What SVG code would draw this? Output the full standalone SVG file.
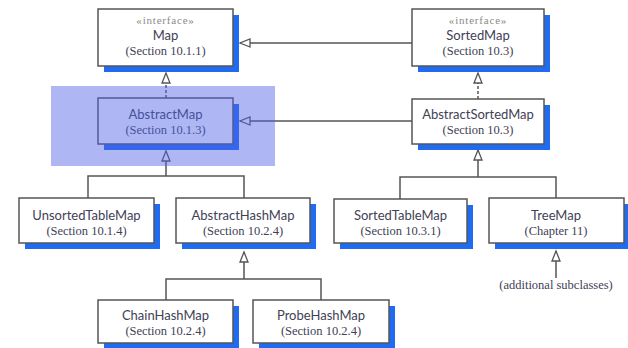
<svg xmlns="http://www.w3.org/2000/svg" width="628" height="348" viewBox="0 0 628 348">
  <defs>
    <style>
      .shadow { fill: #1f6cf2; }
      .box { fill: #ffffff; stroke: #555555; stroke-width: 1.5; }
      .name { font-family: Lato, "Open Sans", "DejaVu Sans", sans-serif; font-size: 13px; fill: #414156; text-anchor: middle; }
      .sec { font-family: "Liberation Serif", "DejaVu Serif", serif; font-size: 12.5px; fill: #414156; text-anchor: middle; }
      .stereo { font-family: "Liberation Serif", "DejaVu Serif", serif; font-size: 11px; fill: #8a8a8a; text-anchor: middle; letter-spacing: 0.8px; }
      .link { fill: none; stroke: #555555; stroke-width: 1.5; }
      .dashed { stroke-dasharray: 3 2; }
    </style>
    <marker id="hollow" viewBox="0 0 12 10" refX="11" refY="5" markerWidth="12" markerHeight="10" markerUnits="userSpaceOnUse" orient="auto" overflow="visible">
      <path d="M1,1 L11,5 L1,9 Z" fill="#ffffff" stroke="#555555" stroke-width="1.3"/>
    </marker>
  </defs>

  <rect width="628" height="348" fill="#ffffff"/>

  <!-- connectors -->
  <g id="connectors">
    <path class="link dashed" d="M166,98 L166,73" marker-end="url(#hollow)"/>
    <path class="link dashed" d="M478,99 L478,73" marker-end="url(#hollow)"/>
    <path class="link" d="M412,43 L240,43" marker-end="url(#hollow)"/>
    <path class="link" d="M412,121 L240,121" marker-end="url(#hollow)"/>
    <path class="link" d="M88,198 L88,176 L244,176 L244,198"/>
    <path class="link" d="M166,176 L166,151" marker-end="url(#hollow)"/>
    <path class="link" d="M400,199 L400,177 L556,177 L556,198"/>
    <path class="link" d="M478,177 L478,150" marker-end="url(#hollow)"/>
    <path class="link" d="M166,300 L166,279 L321,279 L321,300"/>
    <path class="link" d="M244,279 L244,252" marker-end="url(#hollow)"/>
    <path class="link" d="M556,278 L556,251" marker-end="url(#hollow)"/>
  </g>

  <g id="map">
    <rect class="shadow" x="104" y="15" width="135" height="57"/>
    <rect class="box" x="98" y="9" width="135" height="57"/>
    <text class="stereo" x="165.5" y="24">«interface»</text>
    <text class="name" x="165.5" y="40">Map</text>
    <text class="sec" x="165.5" y="55">(Section 10.1.1)</text>
  </g>

  <g id="sortedmap">
    <rect class="shadow" x="418" y="15" width="132" height="57"/>
    <rect class="box" x="412" y="9" width="132" height="57"/>
    <text class="stereo" x="478" y="24">«interface»</text>
    <text class="name" x="478" y="40">SortedMap</text>
    <text class="sec" x="478" y="55">(Section 10.3)</text>
  </g>

  <g id="abstractmap">
    <rect class="shadow" x="104" y="104" width="135" height="46"/>
    <rect class="box" x="98" y="98" width="135" height="46"/>
    <text class="name" x="165.5" y="119">AbstractMap</text>
    <text class="sec" x="165.5" y="134">(Section 10.1.3)</text>
  </g>

  <g id="abstractsortedmap">
    <rect class="shadow" x="418" y="105" width="132" height="45"/>
    <rect class="box" x="412" y="99" width="132" height="45"/>
    <text class="name" x="478" y="119">AbstractSortedMap</text>
    <text class="sec" x="478" y="134">(Section 10.3)</text>
  </g>

  <g id="unsortedtablemap">
    <rect class="shadow" x="25" y="204" width="135" height="45"/>
    <rect class="box" x="19" y="198" width="135" height="45"/>
    <text class="name" x="86.5" y="220">UnsortedTableMap</text>
    <text class="sec" x="86.5" y="235">(Section 10.1.4)</text>
  </g>

  <g id="abstracthashmap">
    <rect class="shadow" x="182" y="204" width="134" height="45"/>
    <rect class="box" x="176" y="198" width="134" height="45"/>
    <text class="name" x="243" y="220">AbstractHashMap</text>
    <text class="sec" x="243" y="235">(Section 10.2.4)</text>
  </g>

  <g id="sortedtablemap">
    <rect class="shadow" x="340" y="205" width="133" height="44"/>
    <rect class="box" x="334" y="199" width="133" height="44"/>
    <text class="name" x="400.5" y="220">SortedTableMap</text>
    <text class="sec" x="400.5" y="235">(Section 10.3.1)</text>
  </g>

  <g id="treemap">
    <rect class="shadow" x="495" y="204" width="135" height="45"/>
    <rect class="box" x="489" y="198" width="135" height="45"/>
    <text class="name" x="556" y="220">TreeMap</text>
    <text class="sec" x="556" y="235">(Chapter 11)</text>
  </g>

  <g id="chainhashmap">
    <rect class="shadow" x="104" y="306" width="135" height="43"/>
    <rect class="box" x="98" y="300" width="135" height="43"/>
    <text class="name" x="165.5" y="320">ChainHashMap</text>
    <text class="sec" x="165.5" y="335">(Section 10.2.4)</text>
  </g>

  <g id="probehashmap">
    <rect class="shadow" x="259" y="306" width="136" height="43"/>
    <rect class="box" x="253" y="300" width="136" height="43"/>
    <text class="name" x="321" y="320">ProbeHashMap</text>
    <text class="sec" x="321" y="335">(Section 10.2.4)</text>
  </g>

  <g id="additional">
    <text class="sec" x="556" y="289">(additional subclasses)</text>
  </g>

  <!-- translucent highlight over the AbstractMap region -->
  <rect id="highlight" x="51" y="86" width="224" height="80" fill="#4f62e6" fill-opacity="0.46"/>
</svg>
